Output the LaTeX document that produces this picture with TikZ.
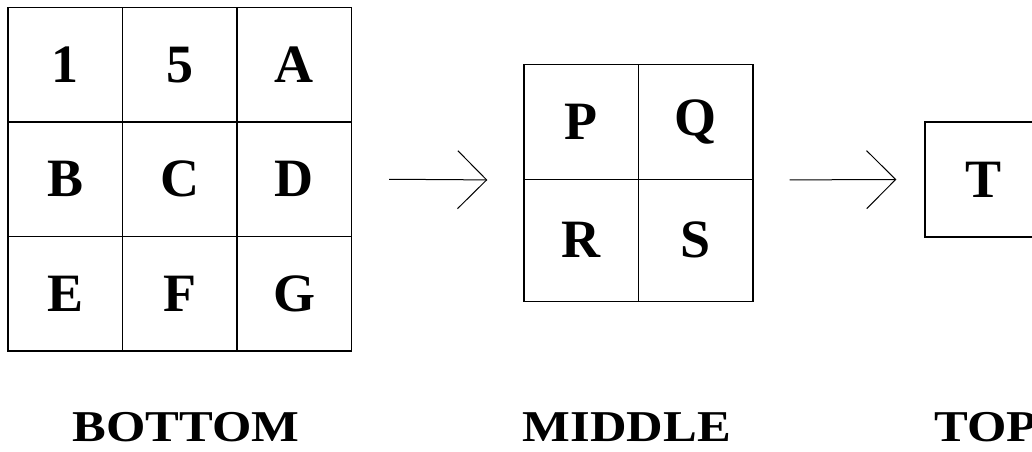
\documentclass[tikz,border=0pt]{standalone}
\usepackage{fontspec}
\setmainfont{Liberation Serif}
\usetikzlibrary{arrows.meta}
\begin{document}
\begin{tikzpicture}[x=1pt,y=-1pt,
  cell/.style={draw,line width=1.3pt,minimum width=114.5pt,minimum height=114.5pt,inner sep=0pt,
    font=\fontsize{54}{60}\selectfont\bfseries},
  lbl/.style={anchor=base,font=\fontsize{44}{50}\selectfont\bfseries,xscale=1.15},
  arr/.style={line width=1pt,-{Straight Barb[length=29pt,width=58pt]}}]
\useasboundingbox (0,0) rectangle (1032,451);
\clip (0,0) rectangle (1032,451);
% bottom grid
\node[cell] (c1) at (65.25,64.75) {1};
\node[cell] (c5) at (179.75,64.75) {5};
\node[cell] (cA) at (294.25,64.75) {A};
\node[cell] (cB) at (65.25,179.25) {B};
\node[cell] (cC) at (179.75,179.25) {C};
\node[cell] (cD) at (294.25,179.25) {D};
\node[cell] (cE) at (65.25,293.75) {E};
\node[cell] (cF) at (179.75,293.75) {F};
\node[cell] (cG) at (294.25,293.75) {G};
% middle grid
\node[cell,minimum width=114.5pt,minimum height=114.5pt] (cP) at (581.25,122) {P};
\node[cell,minimum width=114.5pt,minimum height=114.5pt] (cQ) at (695.75,122) {Q};
\node[cell,minimum width=114.5pt,minimum height=122pt] (cR) at (581.25,240.25) {R};
\node[cell,minimum width=114.5pt,minimum height=122pt] (cS) at (695.75,240.25) {S};
% top
\node[cell,minimum width=116pt,minimum height=115pt] (cT) at (983,179.5) {T};
% arrows
\draw[arr] ([xshift=37pt]cD.east) -- ([xshift=-36pt]cP.south west);
\draw[arr] ([xshift=36pt]cQ.south east) -- ([xshift=-28pt]cT.west);
% labels
\node[lbl] (lb) at (186,441) {BOTTOM};
\node[lbl] (lm) at (627,441) {MIDDLE};
\node[lbl] (lt) at (986,441) {TOP};
\end{tikzpicture}
\end{document}
